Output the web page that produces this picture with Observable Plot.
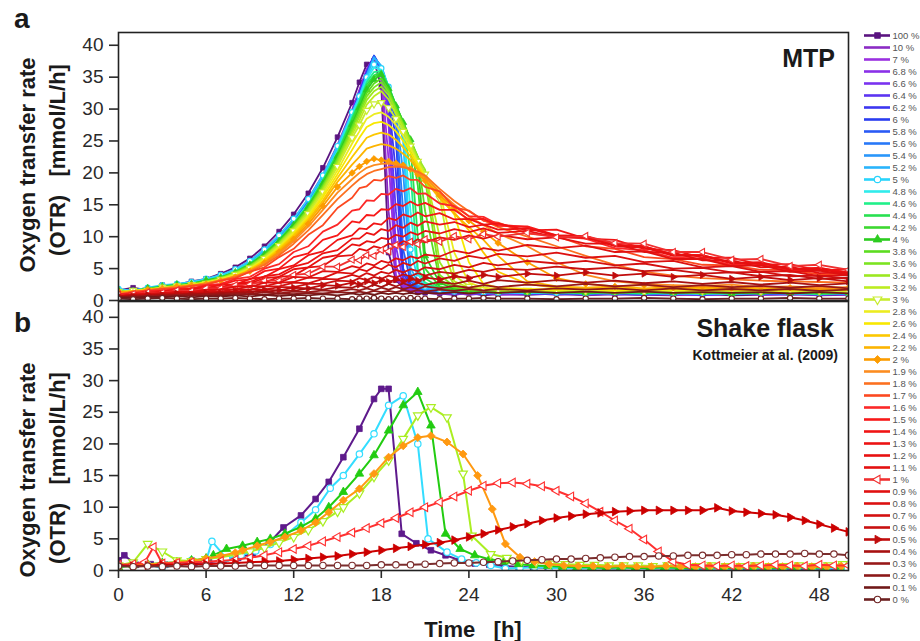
<!DOCTYPE html>
<html><head><meta charset="utf-8">
<script src="https://cdn.jsdelivr.net/npm/d3@7"></script>
<script src="https://cdn.jsdelivr.net/npm/@observablehq/plot@0.6"></script>
<style>
body{margin:0;background:#fff;}
#wrap{position:relative;width:920px;height:641px;overflow:hidden;background:#fff;}
.abs{position:absolute;}
g[aria-label$="tick"] path{stroke-width:1.6px;}
</style></head><body>
<div id="wrap">
 <div id="pa" class="abs" style="left:0;top:0"></div>
 <div id="pb" class="abs" style="left:0;top:296px"></div>
 <div id="leg" class="abs" style="left:850px;top:0"></div>
</div>
<script>
// ---------- axis ticks ----------
const yTicks = [0,5,10,15,20,25,30,35,40];
const xTicks = [0,6,12,18,24,30,36,42,48];

// ---------- legend / series names and colours ----------
const names = ["100 %","10 %","7 %","6.8 %","6.6 %","6.4 %","6.2 %","6 %","5.8 %","5.6 %","5.4 %","5.2 %",
 "5 %","4.8 %","4.6 %","4.4 %","4.2 %","4 %","3.8 %","3.6 %","3.4 %","3.2 %","3 %","2.8 %","2.6 %","2.4 %","2.2 %","2 %",
 "1.9 %","1.8 %","1.7 %","1.6 %","1.5 %","1.4 %","1.3 %","1.2 %","1.1 %","1 %",
 "0.9 %","0.8 %","0.7 %","0.6 %","0.5 %","0.4 %","0.3 %","0.2 %","0.1 %","0 %"];
const colors = ["#5b1480","#8b2bc4","#9a30e0","#8a30e8","#7a32f0","#5c34f2","#3c36f0","#2a3cf0","#2a5af5","#2878f8","#2a96fa","#2ab4fc",
 "#28d4fc","#30ecec","#20f08a","#28e050","#3cd830","#2ccc20","#5cdc20","#7ce420","#9ce820","#bcec20","#c8ec30","#ecec20","#f8e800","#fcc800","#fcb400","#fc9c00",
 "#fc8c20","#fc7020","#fc4820","#fc2828","#f81818","#f01414","#ec1212","#e81010","#e41010","#f03030",
 "#e01010","#dc1010","#d41010","#c81010","#c00c0c","#a81010","#981818","#8c1818","#701818","#6c2020"];

// ---------- panel a (MTP): shared time grid [h] ----------
const tA = [0,1,2,3,4,5,6,7,8,9,10,11,12,13,14,15,16, 16.5,17,17.5,18,18.5,19,19.5,20,20.5,21, 22,23,24,25,26, 28,30,32,34,36,38,40,42,44,46,48,50];

const mtp_100 = [1.6,2.0,1.6,2.4,2.5,3.0,3.4,4.2,5.2,6.6,8.5,10.8,13.5,16.8,20.8,25.6,31.0, 34.2,37.0,37.6,33.5,7.5,3.2,2.0,1.5,1.3,1.2, 1.1,0.9,1.2,0.8,1.0, 0.9,1.1,0.8,1.0,0.9,0.8,1.0,0.8,0.9,1.0,0.8,0.9];
const mtp_10 = [1.2,1.5,2.0,1.9,2.4,2.7,3.3,3.9,4.9,6.2,8.0,10.2,12.8,15.9,19.7,24.4,29.9, 33.0,36.2,38.0,35.6,14.0,3.4,2.1,1.6,1.4,1.2, 1.0,1.2,0.9,1.1,1.0, 1.2,0.9,1.0,1.1,0.9,1.0,0.8,1.1,0.9,1.0,1.1,0.9];
const mtp_7 = [1.4,1.6,1.8,2.2,2.3,2.8,3.1,3.8,4.7,6.0,7.8,10.0,12.6,15.7,19.5,24.2,29.7, 32.8,36.2,38.2,35.8,22.0,4.0,2.3,1.7,1.4,1.3, 1.1,1.3,1.0,1.2,0.9, 1.0,1.2,0.9,1.0,1.1,0.9,1.0,1.2,0.9,1.0,0.9,1.1];
const mtp_6_8 = [1.2,1.7,1.7,2.1,2.4,2.8,3.2,3.9,4.8,6.1,7.9,10.1,12.6,15.6,19.4,24.1,29.6, 32.7,36.0,38.2,36.0,27.5,5.5,2.6,1.8,1.5,1.3, 1.2,1.0,1.3,1.1,1.0, 1.1,1.0,1.2,0.9,1.1,1.0,0.9,1.1,1.0,1.2,1.0,0.9];
const mtp_6_6 = [1.3,1.5,1.9,2.0,2.3,2.9,3.1,3.8,4.8,6.0,7.8,10.0,12.5,15.6,19.4,24.0,29.5, 32.6,35.9,38.3,36.1,29.5,8.5,3.0,2.0,1.6,1.4, 1.3,1.1,1.2,1.0,1.2, 1.0,1.2,1.0,1.1,1.0,1.2,0.9,1.0,1.1,0.9,1.1,1.0];
const mtp_6_4 = [1.2,1.6,1.8,2.2,2.4,2.7,3.2,3.9,4.7,6.1,7.8,10.0,12.5,15.5,19.3,24.0,29.4, 32.5,35.8,38.2,36.2,30.5,14.0,3.6,2.2,1.7,1.4, 1.2,1.3,1.1,1.0,1.2, 1.1,1.0,1.2,1.0,0.9,1.1,1.0,1.2,1.0,1.1,0.9,1.1];
const mtp_6_2 = [1.4,1.6,1.8,2.1,2.3,2.8,3.2,3.8,4.8,6.0,7.8,9.9,12.4,15.5,19.3,23.9,29.3, 32.4,35.7,38.3,36.3,31.5,20.0,4.2,2.4,1.8,1.5, 1.3,1.2,1.4,1.1,1.2, 1.2,1.0,1.1,1.2,1.0,1.1,0.9,1.1,1.2,1.0,1.1,1.0];
const mtp_6 = [1.3,1.7,1.9,2.1,2.4,2.8,3.1,3.9,4.7,6.0,7.7,9.9,12.4,15.4,19.2,23.9,29.3, 32.3,35.6,38.4,36.4,32.0,25.5,5.0,2.6,1.9,1.5, 1.4,1.2,1.3,1.1,1.3, 1.1,1.2,1.0,1.2,1.1,1.0,1.2,1.0,1.1,1.2,1.0,1.1];
const mtp_5_8 = [1.2,1.6,1.8,2.2,2.3,2.7,3.2,3.8,4.7,5.9,7.7,9.8,12.3,15.4,19.2,23.8,29.2, 32.2,35.5,38.3,36.5,32.5,28.0,8.0,3.0,2.0,1.6, 1.4,1.3,1.2,1.3,1.1, 1.2,1.1,1.3,1.0,1.2,1.1,1.0,1.2,1.1,1.0,1.2,1.1];
const mtp_5_6 = [1.4,1.5,1.9,2.0,2.4,2.8,3.1,3.8,4.7,5.9,7.6,9.8,12.3,15.3,19.1,23.8,29.1, 32.1,35.4,38.2,36.6,33.0,29.0,14.0,3.5,2.2,1.7, 1.5,1.3,1.4,1.2,1.3, 1.2,1.3,1.1,1.2,1.0,1.2,1.1,1.3,1.0,1.2,1.1,1.0];
const mtp_5_4 = [1.3,1.6,1.8,2.1,2.3,2.7,3.1,3.7,4.6,5.9,7.6,9.7,12.2,15.3,19.1,23.7,29.0, 32.0,35.3,38.1,36.7,33.2,29.5,20.0,4.2,2.4,1.8, 1.5,1.4,1.2,1.3,1.2, 1.3,1.1,1.2,1.3,1.1,1.0,1.2,1.1,1.3,1.1,1.0,1.2];
const mtp_5_2 = [1.2,1.7,1.7,2.2,2.4,2.7,3.2,3.7,4.6,5.8,7.5,9.7,12.2,15.2,19.0,23.6,29.0, 31.9,35.2,38.0,36.8,33.4,30.0,25.0,5.2,2.8,2.0, 1.6,1.4,1.3,1.2,1.3, 1.2,1.3,1.1,1.2,1.3,1.1,1.2,1.0,1.2,1.3,1.1,1.2];
const mtp_5 = [1.8,1.5,2.0,2.4,2.6,2.9,3.4,4.0,4.9,6.2,8.0,10.2,12.8,15.9,19.6,24.2,29.5, 32.0,35.0,37.0,36.4,33.5,30.2,26.5,8.0,3.5,2.2, 1.7,1.4,1.5,1.3,1.2, 1.3,1.2,1.1,1.3,1.2,1.1,1.2,1.0,1.2,1.1,1.2,1.1];
const mtp_4_8 = [1.3,1.6,1.8,2.1,2.4,2.7,3.1,3.7,4.6,5.8,7.5,9.6,12.1,15.1,18.9,23.4,29.0, 31.6,34.6,36.5,36.2,33.6,30.5,27.5,14.0,4.2,2.5, 1.8,1.5,1.4,1.3,1.4, 1.2,1.3,1.2,1.1,1.3,1.2,1.0,1.2,1.3,1.1,1.2,1.1];
const mtp_4_6 = [1.2,1.5,1.9,2.0,2.3,2.7,3.1,3.7,4.5,5.8,7.4,9.5,12.0,15.0,18.8,23.2,28.7, 31.2,34.2,35.8,36.0,33.6,30.6,27.8,20.0,5.0,2.8, 1.9,1.6,1.4,1.5,1.3, 1.3,1.2,1.4,1.2,1.1,1.3,1.2,1.1,1.3,1.2,1.0,1.2];
const mtp_4_4 = [1.3,1.6,1.7,2.1,2.3,2.6,3.0,3.6,4.5,5.7,7.4,9.5,12.0,14.9,18.7,23.0,28.4, 31.0,33.8,35.3,35.8,33.5,30.6,28.0,24.0,10.0,3.5, 2.0,1.6,1.5,1.4,1.5, 1.3,1.4,1.2,1.3,1.2,1.4,1.1,1.3,1.2,1.3,1.1,1.2];
const mtp_4_2 = [1.2,1.5,1.8,2.0,2.3,2.6,3.0,3.6,4.4,5.6,7.3,9.4,11.9,14.8,18.5,22.8,28.0, 30.6,33.4,35.0,35.6,33.4,30.6,28.0,25.0,18.0,5.0, 2.2,1.7,1.6,1.4,1.5, 1.4,1.3,1.2,1.4,1.3,1.2,1.4,1.2,1.1,1.3,1.2,1.3];
const mtp_4 = [1.6,1.4,1.9,2.2,2.5,2.6,3.2,3.6,4.4,5.6,7.2,9.3,11.8,14.7,18.3,22.6,27.6, 30.2,33.0,34.6,35.4,33.2,30.5,27.9,25.2,22.0,7.0, 2.8,1.8,1.5,1.6,1.4, 1.3,1.4,1.2,1.3,1.4,1.2,1.3,1.1,1.3,1.2,1.4,1.2];
const mtp_3_8 = [1.2,1.5,1.7,2.0,2.2,2.6,3.0,3.5,4.4,5.5,7.1,9.2,11.6,14.5,18.1,22.3,27.2, 29.8,32.5,34.0,34.8,33.0,30.3,27.8,25.2,22.5,14.0, 3.2,2.0,1.6,1.5,1.6, 1.4,1.3,1.5,1.2,1.4,1.3,1.2,1.4,1.3,1.2,1.4,1.3];
const mtp_3_6 = [1.3,1.5,1.8,2.0,2.2,2.5,2.9,3.5,4.3,5.4,7.0,9.0,11.5,14.3,17.8,22.0,26.8, 29.3,32.0,33.4,34.2,32.6,30.0,27.6,25.0,22.5,19.0, 4.0,2.2,1.7,1.6,1.5, 1.5,1.4,1.3,1.5,1.3,1.4,1.2,1.5,1.3,1.4,1.3,1.2];
const mtp_3_4 = [1.2,1.4,1.8,1.9,2.2,2.5,2.9,3.4,4.2,5.3,6.9,8.9,11.3,14.1,17.6,21.7,26.4, 28.8,31.4,32.8,33.5,32.2,29.7,27.4,24.8,22.4,20.5, 6.0,2.5,1.8,1.7,1.6, 1.5,1.6,1.4,1.5,1.3,1.5,1.4,1.3,1.5,1.4,1.3,1.4];
const mtp_3_2 = [1.3,1.5,1.7,2.0,2.1,2.4,2.8,3.4,4.2,5.2,6.8,8.8,11.1,13.9,17.3,21.3,26.0, 28.2,30.7,32.0,32.8,31.5,29.2,27.0,24.5,22.0,20.0, 10.0,3.0,2.0,1.8,1.7, 1.6,1.5,1.6,1.4,1.5,1.6,1.4,1.5,1.3,1.5,1.4,1.5];
const mtp_3 = [1.4,1.6,1.6,2.1,2.3,2.5,2.7,3.3,4.1,5.1,6.6,8.6,10.9,13.6,17.0,21.0,25.5, 27.5,29.8,30.8,31.0,30.2,28.5,26.5,24.2,21.8,19.8, 16.0,4.0,2.2,1.8,1.7, 1.6,1.7,1.5,1.6,1.4,1.6,1.5,1.7,1.4,1.6,1.5,1.4];
const mtp_2_8 = [1.1,1.5,1.7,1.9,2.2,2.4,2.8,3.3,4.0,5.0,6.5,8.4,10.7,13.3,16.6,20.4,24.6, 26.5,28.5,29.2,29.5,28.8,27.5,25.8,23.8,21.5,19.5, 17.0,7.5,2.8,2.0,1.8, 1.7,1.6,1.8,1.5,1.7,1.6,1.5,1.7,1.6,1.5,1.7,1.6];
const mtp_2_6 = [1.2,1.4,1.7,1.9,2.1,2.4,2.8,3.2,3.9,4.9,6.3,8.2,10.4,13.0,16.2,19.8,23.6, 25.5,27.2,27.8,28.0,27.5,26.5,25.0,23.2,21.2,19.2, 16.6,13.5,6.0,2.6,2.0, 1.8,1.7,1.9,1.6,1.7,1.8,1.6,1.7,1.5,1.7,1.6,1.7];
const mtp_2_4 = [1.1,1.4,1.6,1.9,2.1,2.3,2.7,3.2,3.8,4.8,6.2,8.0,10.2,12.7,15.7,19.2,22.5, 24.0,25.5,26.0,26.3,26.0,25.2,24.0,22.6,20.8,19.0, 16.3,13.8,11.0,7.5,4.5, 2.6,2.0,1.8,2.0,1.7,1.9,1.8,1.7,1.9,1.8,1.6,1.8];
const mtp_2_2 = [1.2,1.5,1.6,1.9,2.0,2.3,2.7,3.1,3.8,4.7,6.0,7.8,9.9,12.4,15.3,18.6,21.3, 22.5,23.8,24.2,24.5,24.3,23.8,23.0,22.0,20.5,18.8, 16.0,13.6,11.5,9.5,7.0, 3.0,2.2,2.0,2.2,1.9,2.1,2.0,1.8,2.1,1.9,2.0,1.9];
const mtp_2 = [1.4,1.2,1.7,1.9,2.2,2.4,2.6,3.1,3.7,4.6,5.9,7.6,9.6,12.0,14.8,17.8,20.0, 21.0,21.8,22.2,22.0,21.8,21.5,21.2,20.6,19.8,18.8, 16.5,14.5,12.5,10.8,9.0, 6.0,3.5,2.6,2.2,2.4,2.0,2.2,1.9,2.1,2.0,1.8,2.0];
const mtp_1_9 = [1.0,1.4,1.6,1.9,2.1,2.3,2.7,3.2,3.8,4.6,5.8,7.4,9.3,11.6,14.2,16.9,19.0, 20.0,20.8,21.2,21.4,21.5,21.3,21.0,20.5,20.0,19.3, 17.0,15.0,13.2,11.8,10.5, 8.5,6.0,4.0,3.0,2.6,2.4,2.3,2.5,2.1,2.2,2.0,2.1];
const mtp_1_8 = [1.0,1.3,1.6,1.8,2.0,2.3,2.6,3.1,3.7,4.5,5.6,7.1,8.9,11.0,13.4,15.9,18.0, 19.0,19.8,20.3,20.6,20.9,21.0,20.9,20.6,20.2,19.6, 17.5,15.6,14.0,12.6,11.5, 10.0,8.5,7.0,5.6,4.5,3.9,3.5,3.3,3.1,3.0,2.9,2.8];
const mtp_1_7 = [0.9,1.4,1.5,1.8,1.9,2.3,2.5,3.1,3.5,4.5,5.2,6.8,8.1,10.3,11.8,14.5,16.1, 17.6,17.9,18.9,18.8,19.5,19.2,19.6,18.9,18.9,17.8, 17.1,14.6,14.1,12.5,12.2, 10.5,10.1,8.5,8.1,6.8,6.5,5.6,5.5,4.8,4.8,4.1,4.2];
const mtp_1_6 = [0.9,1.1,1.5,1.5,1.9,1.9,2.4,2.6,3.4,3.7,5.0,5.7,7.6,8.5,10.8,11.9,14.1, 14.3,15.7,15.6,16.7,16.6,17.5,17.1,17.6,16.7,16.8, 15.2,14.8,13.2,13.1,11.9, 11.5,10.0,9.7,8.2,7.9,6.7,6.6,5.6,5.6,4.7,4.9,4.2];
const mtp_1_5 = [1.0,1.0,1.4,1.4,1.8,1.8,2.3,2.4,3.1,3.3,4.6,5.0,6.8,7.4,9.5,10.2,12.4, 12.2,13.4,13.3,14.3,14.2,15.1,14.8,15.5,14.9,15.3, 14.2,14.2,12.7,12.8,11.7, 11.6,10.2,10.1,8.7,8.5,7.2,7.1,5.9,5.9,4.9,5.1,4.4];
const mtp_1_4 = [0.8,1.2,1.2,1.5,1.5,1.9,1.9,2.5,2.5,3.4,3.7,4.9,5.5,7.1,7.7,9.5,10.2, 11.3,11.2,12.1,11.9,12.9,12.6,13.5,13.1,13.8,13.2, 13.7,12.7,12.8,11.9,12.1, 11.0,11.1,9.7,9.5,8.1,7.9,6.7,6.7,5.6,5.7,4.7,4.9];
const mtp_1_3 = [0.7,1.0,1.3,1.3,1.6,1.6,2.0,2.1,2.6,2.9,3.8,4.1,5.3,5.9,7.4,7.9,9.7, 9.7,10.6,10.3,11.2,10.9,11.8,11.4,12.2,11.7,12.4, 11.9,12.3,11.5,11.9,11.1, 11.3,10.2,10.1,8.7,8.5,7.2,7.1,5.9,6.0,4.9,5.1,4.3];
const mtp_1_2 = [0.9,0.9,1.3,1.2,1.6,1.5,1.9,2.0,2.5,2.7,3.5,3.7,4.9,5.2,6.7,7.1,8.8, 8.6,9.3,9.1,9.8,9.6,10.3,10.0,10.7,10.3,10.9, 10.5,11.2,10.7,11.3,10.6, 10.9,9.9,9.9,8.5,8.3,7.0,7.0,5.8,5.9,4.8,5.0,4.1];
const mtp_1_1 = [0.7,1.1,1.0,1.4,1.3,1.7,1.6,2.1,2.1,2.8,2.8,3.7,3.9,5.2,5.4,6.9,7.1, 8.1,7.8,8.5,8.2,8.9,8.6,9.3,8.9,9.6,9.1, 9.9,9.5,10.2,9.7,10.3, 9.6,9.9,8.9,8.9,7.6,7.5,6.3,6.3,5.2,5.3,4.3,4.4];
const mtp_1 = [0.9,1.0,1.3,1.2,1.6,1.5,1.9,1.9,2.4,2.5,3.1,3.1,4.0,4.2,5.3,5.3,6.4, 6.3,7.1,7.0,7.9,7.7,8.7,8.4,9.2,8.8,9.6, 9.2,10.1,9.6,10.4,10.0, 10.6,9.9,10.1,9.0,8.9,7.6,7.6,6.4,6.5,5.4,5.6,4.8];
const mtp_0_9 = [0.7,0.9,1.1,1.1,1.4,1.3,1.7,1.7,2.2,2.1,2.8,2.8,3.7,3.6,4.6,4.5,5.4, 5.1,5.8,5.5,6.2,5.9,6.6,6.3,6.9,6.6,7.2, 6.9,7.8,7.4,8.2,7.8, 8.7,8.2,8.6,7.6,7.7,6.5,6.5,5.4,5.5,4.5,4.7,3.9];
const mtp_0_8 = [0.6,1.0,0.9,1.2,1.1,1.4,1.4,1.8,1.7,2.3,2.2,2.8,2.9,3.6,3.5,4.4,4.2, 4.9,4.6,5.3,4.9,5.6,5.2,5.9,5.5,6.2,5.8, 6.6,6.2,7.0,6.6,7.3, 6.9,7.5,6.7,7.0,6.0,6.2,5.2,5.4,4.5,4.6,3.8,4.0];
const mtp_0_7 = [0.8,0.7,1.0,0.9,1.2,1.1,1.4,1.4,1.8,1.7,2.2,2.2,2.8,2.7,3.4,3.3,4.0, 3.7,4.3,3.9,4.5,4.2,4.8,4.4,4.9,4.6,5.2, 4.9,5.6,5.2,5.9,5.5, 6.2,5.8,6.2,5.5,5.8,5.0,5.1,4.4,4.5,3.8,3.9,3.4];
const mtp_0_6 = [0.6,0.9,0.8,1.1,0.9,1.2,1.1,1.4,1.4,1.7,1.7,2.1,2.1,2.6,2.6,3.1,3.0, 3.5,3.2,3.7,3.4,3.9,3.6,4.1,3.8,4.3,3.9, 4.5,4.2,4.8,4.5,5.0, 4.8,5.3,4.9,5.2,4.6,4.8,4.2,4.4,3.8,4.0,3.4,3.6];
const mtp_0_5 = [0.7,0.6,0.9,0.8,1.1,0.9,1.2,1.1,1.4,1.3,1.7,1.6,2.0,1.9,2.4,2.3,2.8, 2.5,3.0,2.7,3.2,2.9,3.3,3.0,3.4,3.1,3.6, 3.3,3.8,3.5,4.0,3.7, 4.2,3.9,4.4,3.9,4.2,3.7,4.0,3.4,3.7,3.2,3.5,3.0];
const mtp_0_4 = [0.5,0.8,0.7,0.9,0.8,1.1,0.9,1.2,1.1,1.4,1.3,1.6,1.5,1.9,1.7,2.1,2.0, 2.4,2.0,2.5,2.1,2.6,2.2,2.7,2.3,2.8,2.4, 2.9,2.6,3.1,2.6,3.2, 2.8,3.2,2.8,3.1,2.7,3.0,2.6,2.9,2.5,2.8,2.4,2.7];
const mtp_0_3 = [0.6,0.5,0.8,0.6,0.9,0.8,1.0,0.9,1.1,1.0,1.3,1.1,1.4,1.3,1.6,1.4,1.8, 1.6,1.9,1.6,2.0,1.7,2.1,1.8,2.1,1.8,2.2, 1.9,2.3,2.0,2.4,2.1, 2.5,2.2,2.6,2.2,2.5,2.1,2.4,2.1,2.3,2.0,2.3,1.9];
const mtp_0_2 = [0.4,0.6,0.5,0.7,0.6,0.8,0.7,0.9,0.8,1.0,0.9,1.1,1.0,1.2,1.1,1.3,1.2, 1.4,1.2,1.5,1.3,1.5,1.3,1.6,1.4,1.6,1.4, 1.7,1.5,1.8,1.6,1.8, 1.6,1.9,1.7,1.9,1.6,1.9,1.6,1.8,1.6,1.8,1.5,1.7];
const mtp_0_1 = [0.5,0.4,0.6,0.5,0.7,0.5,0.7,0.6,0.8,0.6,0.9,0.7,0.9,0.8,1.0,0.8,1.1, 0.9,1.1,0.9,1.2,1.0,1.2,1.0,1.2,1.0,1.2, 1.1,1.3,1.1,1.3,1.2, 1.4,1.2,1.4,1.2,1.4,1.2,1.3,1.2,1.3,1.1,1.3,1.1];
const mtp_0 = [0.3,0.2,0.3,0.4,0.3,0.2,0.3,0.3,0.4,0.3,0.2,0.3,0.3,0.4,0.3,0.3,0.2, 0.3,0.3,0.4,0.3,0.2,0.3,0.3,0.4,0.3,0.3, 0.2,0.3,0.3,0.4,0.3, 0.3,0.2,0.3,0.3,0.4,0.3,0.2,0.3,0.3,0.4,0.3,0.3];

const mtpSeries = [mtp_100,mtp_10,mtp_7,mtp_6_8,mtp_6_6,mtp_6_4,mtp_6_2,mtp_6,mtp_5_8,mtp_5_6,mtp_5_4,mtp_5_2,
 mtp_5,mtp_4_8,mtp_4_6,mtp_4_4,mtp_4_2,mtp_4,mtp_3_8,mtp_3_6,mtp_3_4,mtp_3_2,mtp_3,mtp_2_8,mtp_2_6,mtp_2_4,mtp_2_2,mtp_2,
 mtp_1_9,mtp_1_8,mtp_1_7,mtp_1_6,mtp_1_5,mtp_1_4,mtp_1_3,mtp_1_2,mtp_1_1,mtp_1,
 mtp_0_9,mtp_0_8,mtp_0_7,mtp_0_6,mtp_0_5,mtp_0_4,mtp_0_3,mtp_0_2,mtp_0_1,mtp_0];

// ---------- panel b (shake flask): [time h, OTR] ----------
const sf_100 = [[0,1.6],[0.4,2.4],[1.2,0.9],[2.2,1.0],[3.2,0.9],[4.2,1.1],[5.2,1.2],[6.2,1.3],[7.2,1.6],[8.2,2.0],[9.2,2.7],[10.3,4.3],[11.3,6.8],[12.5,8.7],[13.5,11.3],[14.4,14.0],[15.4,17.9],[16.5,22.4],[17.5,27.1],[18.0,28.7],[18.5,28.7],[19.4,5.8],[20.4,4.3],[21.4,3.2],[22.4,2.4],[23.4,1.6],[24.4,1.1],[25.4,0.9],[26.4,0.7],[27.4,0.6],[28.4,0.5],[29.4,0.4],[30.4,0.4],[31.4,0.3],[32.4,0.4],[33.4,0.3],[34.4,0.3],[35.4,0.4],[36.4,0.3],[37.4,0.3],[38.4,0.3],[39.4,0.2],[40.4,0.3],[41.4,0.3],[42.4,0.2],[43.4,0.3],[44.4,0.2],[45.4,0.3],[46.4,0.2],[47.4,0.3],[48.4,0.2],[49.4,0.3]];
const sf_5 = [[0,0.6],[1,0.8],[2,0.9],[3,0.4],[4,1.0],[5,1.6],[6,1.5],[6.4,4.6],[7.4,1.9],[8.4,2.4],[9.4,3.1],[10.4,4.1],[11.4,5.5],[12.5,7.6],[13.5,9.6],[14.5,13.0],[15.4,15.0],[16.5,18.4],[17.5,21.6],[18.5,26.1],[19.5,27.6],[20.5,20.0],[21.2,5.0],[22.5,2.9],[23.5,1.8],[24.5,1.2],[25.5,0.8],[26.5,0.3],[27.5,0.4],[28.5,0.5],[29.5,0.4],[30.5,0.4],[31.5,0.3],[32.5,0.4],[33.5,0.3],[34.5,0.4],[35.5,0.3],[36.5,0.3],[37.5,0.4],[38.5,0.3],[39.5,0.3],[40.5,0.4],[41.5,0.3],[42.5,0.3],[43.5,0.4],[44.5,0.3],[45.5,0.3],[46.5,0.4],[47.5,0.3],[48.5,0.3],[49.5,0.4]];
const sf_4 = [[0,0.5],[1,0.8],[2,1.0],[3,1.2],[4,1.3],[5,1.6],[6,1.9],[6.5,2.4],[7.4,3.4],[8.5,3.9],[9.5,4.5],[10.4,5.0],[11.4,5.8],[12.5,6.9],[13.5,8.2],[14.4,10.0],[15.4,12.4],[16.5,15.3],[17.5,18.2],[18.5,22.1],[19.5,26.1],[20.5,28.2],[21.4,22.9],[22.4,5.8],[23.4,3.4],[24.4,2.4],[25.4,1.8],[26.4,1.4],[27.4,1.0],[28.4,0.8],[29.4,0.7],[30.4,0.6],[31.4,0.5],[32.4,0.5],[33.4,0.4],[34.4,0.5],[35.4,0.4],[36.4,0.4],[37.4,0.5],[38.4,0.4],[39.4,0.4],[40.4,0.5],[41.4,0.4],[42.4,0.4],[43.4,0.5],[44.4,0.4],[45.4,0.4],[46.4,0.5],[47.4,0.4],[48.4,0.5],[49.4,0.6]];
const sf_3 = [[0,0.8],[1,1.3],[2,4.2],[3,3.0],[4,1.6],[5,1.5],[6,1.8],[7,2.1],[8,2.5],[9,3.0],[10,3.6],[11,4.4],[12,5.3],[13,6.4],[14,7.8],[15,9.3],[15.4,10.0],[16.5,12.2],[17.5,14.8],[18.5,17.4],[19.5,20.8],[20.5,24.5],[21.4,25.8],[22.5,24.2],[23.6,15.3],[24.2,5.5],[25.5,2.6],[26.6,2.0],[27.6,1.6],[28.6,1.3],[29.6,1.1],[30.6,1.0],[31.6,0.9],[32.6,0.9],[33.6,0.8],[34.6,0.8],[35.6,0.8],[36.6,0.7],[37.6,0.8],[38.6,0.7],[39.6,0.7],[40.6,0.8],[41.6,0.7],[42.6,0.7],[43.6,0.8],[44.6,0.7],[45.6,0.7],[46.6,0.8],[47.6,0.7],[48.6,0.8],[49.6,1.0]];
const sf_2 = [[0,0.7],[1,0.9],[2,1.0],[3,1.1],[4,1.3],[5,1.5],[6,1.9],[7,2.3],[8,2.8],[8.5,3.2],[9.5,3.9],[10.4,4.5],[11.4,5.3],[12.5,6.3],[13.5,7.6],[14.4,9.2],[15.4,11.1],[16.5,12.9],[17.5,15.3],[18.5,17.9],[19.5,19.7],[20.5,21.0],[21.4,21.3],[22.5,20.3],[23.6,18.4],[24.6,15.0],[25.6,9.7],[26.5,4.2],[27.5,2.1],[28.5,1.4],[29.5,1.0],[30.5,0.8],[31.5,0.7],[32.5,0.7],[33.5,0.6],[34.5,0.7],[35.5,0.6],[36.5,0.6],[37.5,0.7],[38.5,0.6],[39.5,0.6],[40.5,0.7],[41.5,0.6],[42.5,0.6],[43.5,0.7],[44.5,0.6],[45.5,0.6],[46.5,0.7],[47.5,0.6],[48.5,0.6],[49.5,0.7]];
const sf_1 = [[0,0.9],[1,1.0],[1.8,1.3],[2.4,3.7],[3,1.1],[4,1.2],[5,1.3],[6,1.4],[7,1.5],[8,1.7],[9,2.0],[10,2.4],[11,2.9],[12,3.4],[13,3.9],[14,4.6],[15,5.3],[16,6.0],[17,6.7],[18,7.5],[19,8.3],[20,9.2],[21,10.0],[22,10.8],[23,11.7],[24,12.6],[25,13.4],[26,13.8],[27,13.9],[28,13.7],[29,13.3],[30,12.6],[31,11.7],[32,10.6],[33,9.3],[34,7.9],[35,6.6],[36,4.9],[37,3.0],[38,1.4],[39,0.9],[40,0.8],[41,0.7],[42,0.8],[43,0.7],[44,0.8],[45,0.9],[46,0.8],[47,0.7],[48,0.9],[49,0.8],[50,0.8]];
const sfHours = [0,1,2,3,4,5,6,7,8,9,10,11,12,13,14,15,16,17,18,19,20,21,22,23,24,25,26,27,28,29,30,31,32,33,34,35,36,37,38,39,40,41,42,43,44,45,46,47,48,49,50];
const sf_0_5 = [0.8,0.7,0.8,0.9,0.9,1.0,1.0,1.1,1.2,1.3,1.4,1.5,1.7,1.9,2.1,2.3,2.6,2.9,3.2,3.5,3.8,4.1,4.4,4.8,5.3,5.8,6.4,6.9,7.4,7.9,8.3,8.6,8.9,9.1,9.3,9.4,9.5,9.5,9.5,9.5,9.5,9.9,9.4,9.2,9.0,8.8,8.4,7.9,7.3,6.7,6.1];
const sf_0 = [0.7,0.6,0.7,0.6,0.7,0.6,0.7,0.7,0.7,0.8,0.8,0.8,0.8,0.8,0.8,0.8,0.8,0.8,0.9,0.9,0.9,1.0,1.1,1.2,1.2,1.3,1.4,1.5,1.6,1.7,1.8,1.8,1.9,2.0,2.1,2.2,2.2,2.3,2.3,2.4,2.4,2.4,2.5,2.5,2.6,2.6,2.6,2.7,2.6,2.6,2.4];

const sfNames = ["100 %","5 %","4 %","3 %","2 %","1 %","0.5 %","0 %"];
const sfColors = ["#5e1a8c","#33ddff","#22cc11","#aaee22","#ff9911","#ff3030","#cc0000","#7b2d2d"];

// ---------- marker symbols ----------
const triUp = {draw(c,s){const r=Math.sqrt(s/1.3);c.moveTo(0,-r);c.lineTo(r*0.866,r*0.5);c.lineTo(-r*0.866,r*0.5);c.closePath();}};
const triDown = {draw(c,s){const r=Math.sqrt(s/1.3);c.moveTo(0,r);c.lineTo(r*0.866,-r*0.5);c.lineTo(-r*0.866,-r*0.5);c.closePath();}};
const triLeft = {draw(c,s){const r=Math.sqrt(s/1.3);c.moveTo(-r,0);c.lineTo(r*0.5,-r*0.866);c.lineTo(r*0.5,r*0.866);c.closePath();}};
const triRight = {draw(c,s){const r=Math.sqrt(s/1.3);c.moveTo(r,0);c.lineTo(-r*0.5,-r*0.866);c.lineTo(-r*0.5,r*0.866);c.closePath();}};
const diamondSq = {draw(c,s){const d=Math.sqrt(s/2);c.moveTo(0,-d);c.lineTo(d,0);c.lineTo(0,d);c.lineTo(-d,0);c.closePath();}};
function markerOpts(name, col){
  switch(name){
    case "100 %": return {symbol:"square", fill:col, stroke:col, strokeWidth:0.8};
    case "5 %": return {symbol:"circle", fill:"white", stroke:col, strokeWidth:1.2};
    case "4 %": return {symbol:triUp, fill:col, stroke:col, strokeWidth:0.8};
    case "3 %": return {symbol:triDown, fill:"white", stroke:col, strokeWidth:1.2};
    case "2 %": return {symbol:diamondSq, fill:col, stroke:col, strokeWidth:0.8};
    case "1 %": return {symbol:triLeft, fill:"white", stroke:col, strokeWidth:1.1};
    case "0.5 %": return {symbol:triRight, fill:col, stroke:col, strokeWidth:0.8};
    case "0 %": return {symbol:"circle", fill:"white", stroke:col, strokeWidth:1.1};
  }
  return null;
}

const FONT = "Arial, 'Liberation Sans', Helvetica, sans-serif";
const baseStyle = {fontFamily: FONT, fontSize: "19px", color: "#2a2a2a", background: "none", overflow: "visible"};

// ---------- panel a ----------
const marksA = [];
names.forEach((n, i) => {
  const rows = tA.map((t, j) => ({t, v: mtpSeries[i][j]})).filter(d => d.v != null);
  marksA.push(Plot.line(rows, {x: "t", y: "v", stroke: colors[i], strokeWidth: 1.8, clip: true}));
  const m = markerOpts(n, colors[i]);
  if (m) marksA.push(Plot.dot(rows, {x: "t", y: "v", r: 2.6, clip: true, ...m}));
});
marksA.push(Plot.frame({stroke: "#222", strokeWidth: 1.6}));
const plotA = Plot.plot({
  width: 860, height: 305, marginLeft: 118, marginRight: 12, marginTop: 32, marginBottom: 5,
  style: baseStyle,
  x: {domain: [0, 50], axis: null},
  y: {domain: [0, 42], ticks: yTicks, tickSize: 9, tickPadding: 6, label: null},
  marks: marksA
});
document.getElementById("pa").appendChild(plotA);

// ---------- panel b ----------
const sfData = [sf_100, sf_5, sf_4, sf_3, sf_2, sf_1,
  sfHours.map((h, j) => [h, sf_0_5[j]]), sfHours.map((h, j) => [h, sf_0[j]])];
const marksB = [];
sfNames.forEach((n, i) => {
  const rows = sfData[i].map(([t, v]) => ({t, v}));
  marksB.push(Plot.line(rows, {x: "t", y: "v", stroke: sfColors[i], strokeWidth: 2, clip: true}));
  marksB.push(Plot.dot(rows, {x: "t", y: "v", r: 3.2, clip: true, ...markerOpts(n, sfColors[i])}));
});
marksB.push(Plot.frame({stroke: "#222", strokeWidth: 1.6}));
const plotB = Plot.plot({
  width: 860, height: 314, marginLeft: 118, marginRight: 12, marginTop: 5, marginBottom: 40,
  style: baseStyle,
  x: {domain: [0, 50], ticks: xTicks, tickSize: 8, tickPadding: 9, label: null},
  y: {domain: [0, 42.5], ticks: yTicks, tickSize: 9, tickPadding: 6, label: null},
  marks: marksB
});
document.getElementById("pb").appendChild(plotB);

// ---------- legend ----------
const legMarks = [
  Plot.ruleY(names, {y: d => d, x1: 14, x2: 40, stroke: d => colors[names.indexOf(d)], strokeWidth: 2.6})
];
names.forEach((n, i) => {
  const m = markerOpts(n, colors[i]);
  if (m) legMarks.push(Plot.dot([n], {x: 27, y: d => d, r: 3.2, ...m}));
});
legMarks.push(Plot.text(names, {x: 42, y: d => d, text: d => d, textAnchor: "start", fill: "#555", fontSize: 9.5}));
const legend = Plot.plot({
  width: 70, height: 641, margin: 0,
  style: {fontFamily: FONT, background: "none", overflow: "visible"},
  color: {type: "identity"},
  x: {domain: [0, 70], range: [0, 70], axis: null},
  y: {type: "point", domain: names, range: [15.7, 618], axis: null},
  marks: legMarks
});
document.getElementById("leg").appendChild(legend);

// ---------- text labels ----------
const ov = d3.select("#wrap").append("svg")
  .attr("width", 920).attr("height", 641)
  .style("position", "absolute").style("left", 0).style("top", 0)
  .style("pointer-events", "none").style("font-family", FONT);
function label(x, y, s, size, anchor, rot){
  const t = ov.append("text").text(s).attr("font-size", size).attr("font-weight", "bold")
    .attr("fill", "#1a1a1a").attr("text-anchor", anchor).style("white-space", "pre");
  if (rot) t.attr("transform", `translate(${x},${y}) rotate(-90)`);
  else t.attr("x", x).attr("y", y);
}
label(14, 28, "a", 28, "start");
label(14, 332, "b", 28, "start");
label(835, 67, "MTP", 25, "end");
label(834, 337, "Shake flask", 25, "end");
label(838, 360, "Kottmeier at al. (2009)", 14, "end");
label(35, 165, "Oxygen transfer rate", 22, "middle", true);
label(65, 160, "(OTR)   [mmol/L/h]", 22, "middle", true);
label(35, 470, "Oxygen transfer rate", 22, "middle", true);
label(65, 468, "(OTR)   [mmol/L/h]", 22, "middle", true);
label(473, 637, "Time   [h]", 22, "middle");
</script>
</body></html>
